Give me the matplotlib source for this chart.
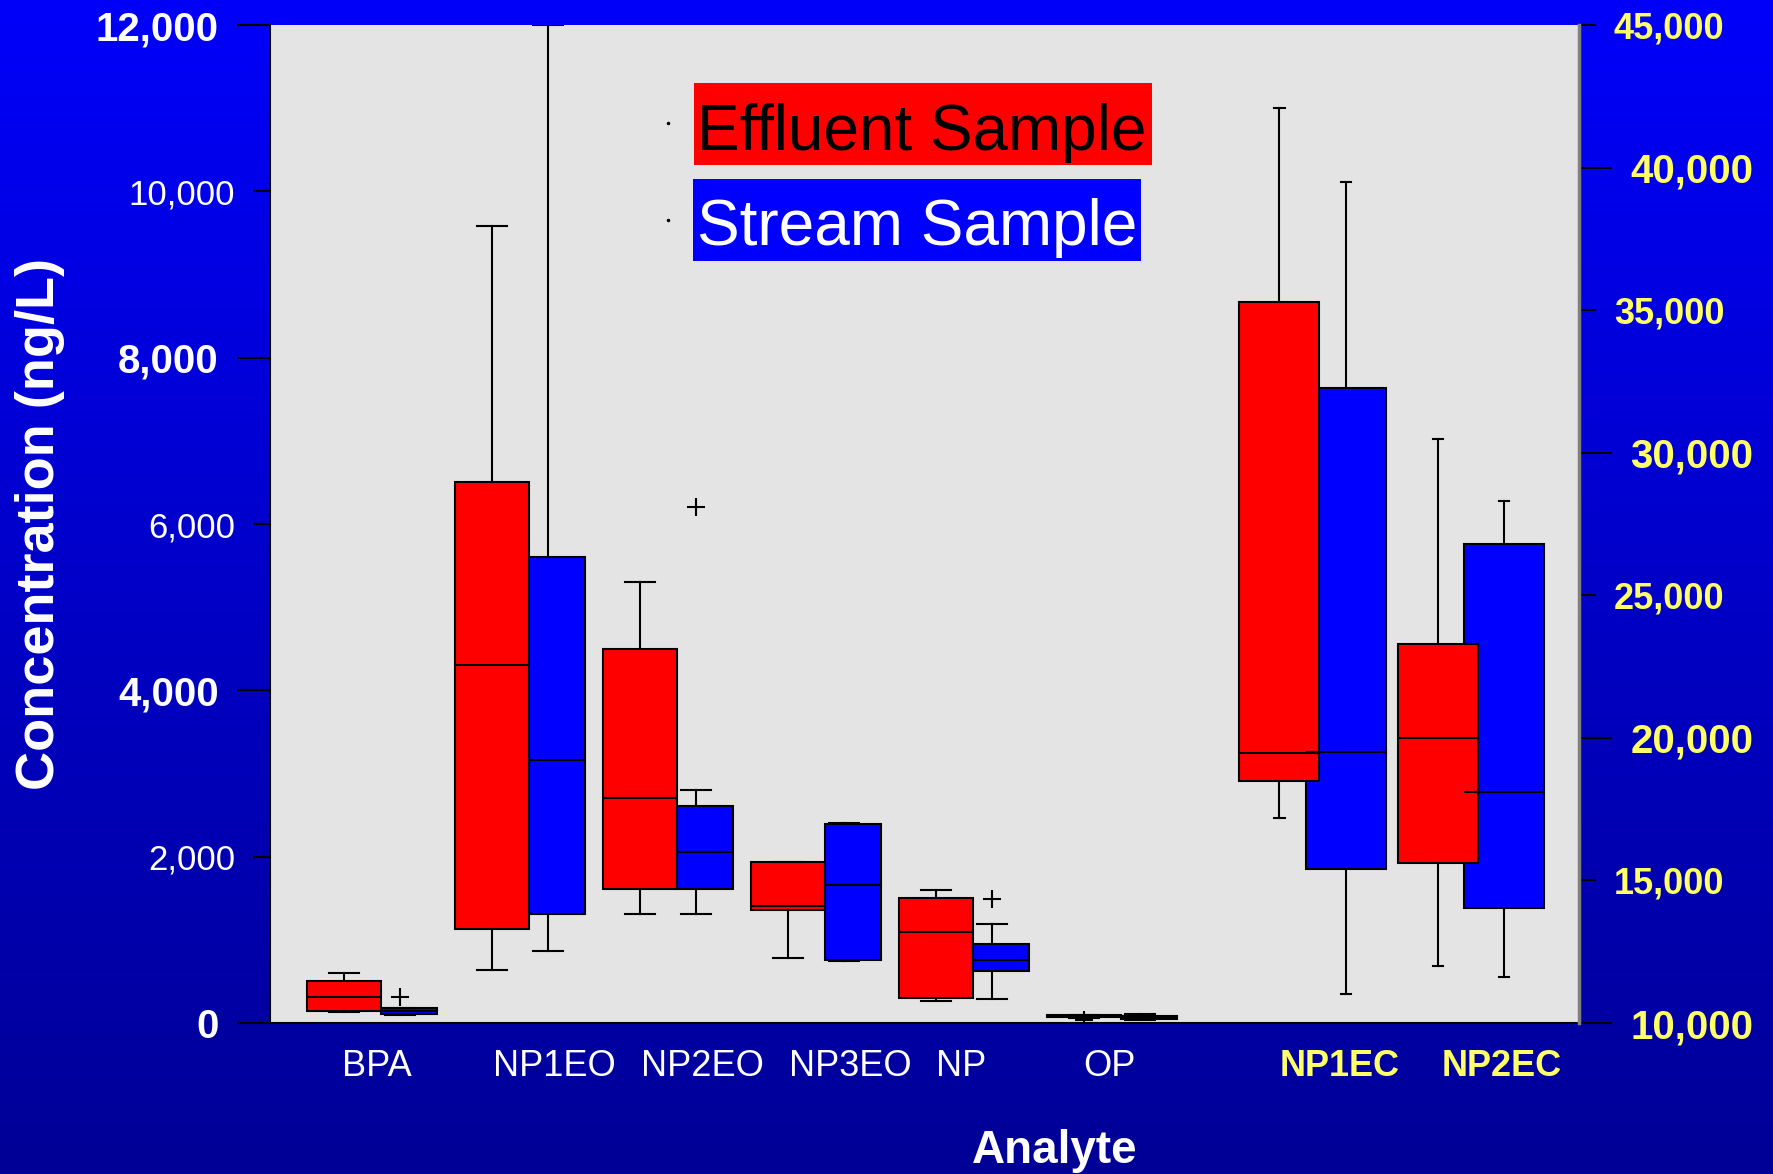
import matplotlib
matplotlib.use("Agg")
import matplotlib.pyplot as plt
import matplotlib.transforms as mtransforms
import numpy as np
from matplotlib.patches import Rectangle
from matplotlib.ticker import FixedLocator, FuncFormatter

plt.rcParams["font.family"] = ["Liberation Sans", "DejaVu Sans"]

# left axis analytes (ng/L)
analytes = ["BPA", "NP1EO", "NP2EO", "NP3EO", "NP", "OP"]

eff_low = [128, 643, 1310, 781, 268, 60]
eff_q1 = [140, 1125, 1608, 1353, 296, 70]
eff_med = [312, 4300, 2709, 1410, 1094, 82]
eff_q3 = [508, 6511, 4501, 1935, 1498, 95]
eff_high = [597, 9589, 5305, 1940, 1594, 100]
eff_out = [[], [], [], [], [], [40]]

str_low = [92, 860, 1310, 751, 292, 35]
str_q1 = [112, 1310, 1608, 761, 629, 45]
str_med = [144, 3159, 2058, 1654, 753, 70]
str_q3 = [176, 5603, 2604, 2399, 953, 90]
str_high = [176, 12000, 2805, 2400, 1194, 112]
str_out = [[312], [], [6205], [], [1494], []]

# right axis analytes (ng/L)
carboxylates = ["NP1EC", "NP2EC"]

ec_eff_low = [17205, 12002]
ec_eff_q1 = [18502, 15613]
ec_eff_med = [19459, 20009]
ec_eff_q3 = [35279, 23281]
ec_eff_high = [42094, 30478]

ec_str_low = [11006, 11623]
ec_str_q1 = [15403, 14021]
ec_str_med = [19501, 18099]
ec_str_q3 = [32284, 26783]
ec_str_high = [39482, 28291]


def make_stats(low, q1, med, q3, high, out=None):
    if out is None:
        out = [[] for _ in low]
    return [dict(whislo=a, q1=b, med=c, q3=d, whishi=e, fliers=f)
            for a, b, c, d, e, f in zip(low, q1, med, q3, high, out)]


def draw_boxes(ax, stats, pos, width, cap, color, box_shift=0.0):
    parts = ax.bxp(stats, positions=pos, widths=width, capwidths=cap,
                   patch_artist=True, manage_ticks=False,
                   boxprops=dict(facecolor=color, edgecolor="black", linewidth=1.5),
                   medianprops=dict(color="black", linewidth=1.5),
                   whiskerprops=dict(color="black", linewidth=1.5),
                   capprops=dict(color="black", linewidth=1.5),
                   flierprops=dict(marker="+", markeredgecolor="black",
                                   markersize=13, markeredgewidth=1.5))
    if box_shift:
        # the stream boxes sit a little right of their whiskers
        shift = mtransforms.Affine2D().translate(box_shift, 0) + ax.transData
        for art in parts["boxes"] + parts["medians"]:
            art.set_transform(shift)
    return parts


fig = plt.figure(figsize=(17.73, 11.74), dpi=100)

# blue gradient background
bg = fig.add_axes([0, 0, 1, 1])
shade = np.linspace(250, 150, 256) / 255
grad = np.zeros((256, 1, 3))
grad[:, 0, 2] = shade
bg.imshow(grad, aspect="auto", extent=[0, 1, 0, 1])
bg.axis("off")

ax = fig.add_axes([0.1523, 0.1286, 0.7383, 0.8501])
ax.set_facecolor("#e4e4e4")
ax.set_xlim(-0.75, 8.095)
ax.set_ylim(0, 12000)

left = np.arange(len(analytes))
draw_boxes(ax, make_stats(eff_low, eff_q1, eff_med, eff_q3, eff_high, eff_out),
           left - 0.25, 0.5, 0.2, "#ff0000")
draw_boxes(ax, make_stats(str_low, str_q1, str_med, str_q3, str_high, str_out),
           left + 0.128, 0.38, 0.2, "#0000ff", box_shift=0.062)

ax2 = ax.twinx()
ax2.set_ylim(10000, 45000)
right = np.array([6.3, 7.37])
draw_boxes(ax2, make_stats(ec_str_low, ec_str_q1, ec_str_med, ec_str_q3, ec_str_high),
           right + 0.22, 0.54, 0.07, "#0000ff")
draw_boxes(ax2, make_stats(ec_eff_low, ec_eff_q1, ec_eff_med, ec_eff_q3, ec_eff_high),
           right - 0.23, 0.54, 0.07, "#ff0000")

fmt = FuncFormatter(lambda v, p: f"{v:,.0f}")

# left axis ticks: bold long / regular short alternating
ax.yaxis.set_major_locator(FixedLocator([0, 4000, 8000, 12000]))
ax.yaxis.set_minor_locator(FixedLocator([2000, 6000, 10000]))
ax.yaxis.set_major_formatter(fmt)
ax.yaxis.set_minor_formatter(fmt)
ax.tick_params(axis="y", which="major", length=24, width=1.5, colors="black",
               labelcolor="white", labelsize=29, pad=13)
ax.tick_params(axis="y", which="minor", length=12, width=1.5, colors="black",
               labelcolor="white", labelsize=25, pad=13)
for t in ax.yaxis.get_majorticklabels():
    t.set_fontweight("bold")

ax2.yaxis.set_major_locator(FixedLocator([10000, 20000, 30000, 40000]))
ax2.yaxis.set_minor_locator(FixedLocator([15000, 25000, 35000, 45000]))
ax2.yaxis.set_major_formatter(fmt)
ax2.yaxis.set_minor_formatter(fmt)
ax2.tick_params(axis="y", which="major", length=24, width=1.5, colors="black",
                labelcolor="#ffff66", labelsize=29, pad=13)
ax2.tick_params(axis="y", which="minor", length=12, width=1.5, colors="black",
                labelcolor="#ffff66", labelsize=26, pad=13)
for t in ax2.yaxis.get_majorticklabels() + ax2.yaxis.get_minorticklabels():
    t.set_fontweight("bold")

# x labels
tick_pos = [-0.03, 1.17, 2.17, 3.17, 3.92, 4.92, 6.48, 7.57]
ax.set_xticks(tick_pos)
ax.set_xticklabels(analytes + carboxylates)
ax.tick_params(axis="x", length=0, labelsize=26, labelcolor="white", pad=19)
for t in ax.get_xticklabels()[len(analytes):]:
    t.set_color("#ffff66")
    t.set_fontweight("bold")

for a in (ax, ax2):
    a.spines["top"].set_visible(False)
ax.spines["right"].set_visible(False)
ax2.spines["left"].set_visible(False)
ax2.spines["bottom"].set_visible(False)
ax2.spines["right"].set_color("#808080")
ax2.spines["right"].set_linewidth(2.5)
ax.spines["left"].set_linewidth(1.5)
ax.spines["bottom"].set_linewidth(1.5)

# legend boxes
ax2.add_patch(Rectangle((0.3239, 0.8597), 0.3499, 0.0822, transform=ax.transAxes,
                        facecolor="#ff0000", edgecolor="none", zorder=5))
ax2.add_patch(Rectangle((0.3231, 0.7635), 0.3423, 0.0822, transform=ax.transAxes,
                        facecolor="#0000ff", edgecolor="none", zorder=5))
ax2.text(0.3262, 0.8747, "Effluent Sample", transform=ax.transAxes, fontsize=46,
         va="baseline", ha="left", color="black", zorder=6)
ax2.text(0.3262, 0.7796, "Stream Sample", transform=ax.transAxes, fontsize=46,
         va="baseline", ha="left", color="white", zorder=6)
ax2.plot([0.304, 0.304], [0.9018, 0.8046], transform=ax.transAxes, ls="none",
         marker="o", ms=1.5, color="black")

fig.text(1055 / 1773, 1 - 1163 / 1174, "Analyte", ha="center", va="baseline",
         fontsize=33, fontweight="bold", color="white")
fig.text(40 / 1773, 1 - 524 / 1174, "Concentration (ng/L)", rotation=90,
         ha="center", va="center", fontsize=39, fontweight="bold", color="white")

fig.savefig("out.png", dpi=100)
